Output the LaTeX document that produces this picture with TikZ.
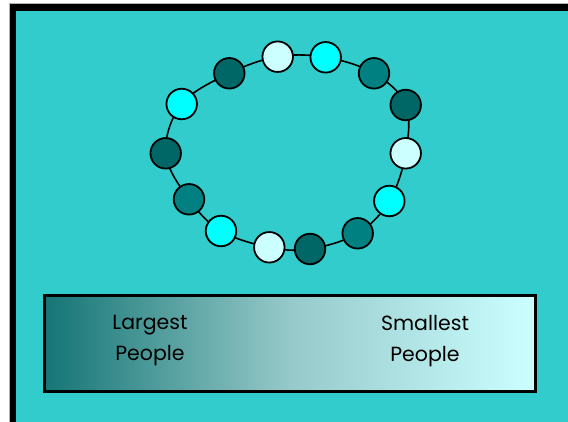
\documentclass[tikz,border=0pt]{standalone}
\usepackage{fontspec}
\setmainfont{Poppins}
\definecolor{bg}{HTML}{33CCCC}
\definecolor{dk}{HTML}{006666}
\definecolor{md}{HTML}{008080}
\definecolor{cy}{HTML}{00FFFF}
\definecolor{lt}{HTML}{CCFFFF}
\definecolor{gl}{HTML}{157575}
\definecolor{gm}{HTML}{96C9C9}
\tikzset{
  bead/.style={circle, draw=black, line width=1.8pt, minimum size=30.5pt, inner sep=0pt},
  lbl/.style={font=\fontsize{20.5pt}{31pt}\selectfont, align=center, text=black},
}
\begin{document}
\begin{tikzpicture}[x=1pt,y=-1pt]
\useasboundingbox (0,0) rectangle (568,422);
\fill[white] (0,0) rectangle (568,422);
\fill[gray!60] (8.5,3.5) rectangle (570,424);
\fill[black] (9.5,4.5) rectangle (570,424);
\fill[bg] (16,11) rectangle (570,424);
% bead positions
\coordinate (c1) at (277.7,56.7);
\coordinate (c2) at (325.7,57.3);
\coordinate (c3) at (374,73.3);
\coordinate (c4) at (405.7,105);
\coordinate (c5) at (405.7,153.3);
\coordinate (c6) at (389.3,201);
\coordinate (c7) at (357.7,233.3);
\coordinate (c8) at (310,249);
\coordinate (c9) at (269.3,247.3);
\coordinate (c10) at (221,231);
\coordinate (c11) at (189,199.3);
\coordinate (c12) at (165.7,153.3);
\coordinate (c13) at (181.7,104);
\coordinate (c14) at (229.3,73.3);
% ring through the beads
\draw[line width=1.6pt] plot[smooth cycle, tension=0.6] coordinates {(c1) (c2) (c3) (c4) (c5) (c6) (c7) (c8) (c9) (c10) (c11) (c12) (c13) (c14)};
% beads
\node[bead, fill=lt] (b1) at (c1) {};
\node[bead, fill=cy] (b2) at (c2) {};
\node[bead, fill=md] (b3) at (c3) {};
\node[bead, fill=dk] (b4) at (c4) {};
\node[bead, fill=lt] (b5) at (c5) {};
\node[bead, fill=cy] (b6) at (c6) {};
\node[bead, fill=md] (b7) at (c7) {};
\node[bead, fill=dk] (b8) at (c8) {};
\node[bead, fill=lt] (b9) at (c9) {};
\node[bead, fill=cy] (b10) at (c10) {};
\node[bead, fill=md] (b11) at (c11) {};
\node[bead, fill=dk] (b12) at (c12) {};
\node[bead, fill=cy] (b13) at (c13) {};
\node[bead, fill=dk] (b14) at (c14) {};
% gradient box
\node[draw=black, line width=3pt, minimum width=491pt, minimum height=95pt, inner sep=0pt,
  left color=gl, right color=lt, middle color=gm] (bar) at (290,343.5) {};
\node[lbl] (large) at (150,341) {Largest\\People};
\node[lbl] (small) at (425,341) {Smallest\\People};
\end{tikzpicture}
\end{document}
